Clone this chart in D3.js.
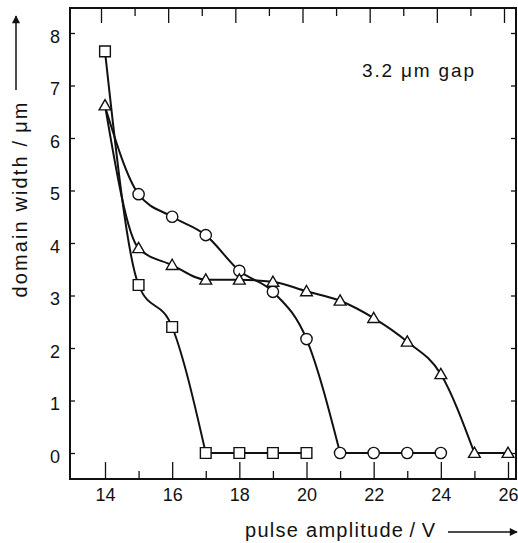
<!DOCTYPE html>
<html><head><meta charset="utf-8">
<script src="https://cdn.jsdelivr.net/npm/d3@7"></script>
<style>body{margin:0;background:#fff}svg{display:block}text{font-family:"Liberation Sans",Arial,Helvetica,sans-serif;fill:#111}</style>
</head><body><svg id="c" width="518" height="543"></svg>
<script>
// ---- data ----
const squareX = [14, 15, 16, 17, 18, 19, 20];
const squareY = [7.65, 3.2, 2.4, 0, 0, 0, 0];
const circleX = [14, 15, 16, 17, 18, 19, 20, 21, 22, 23, 24];
const circleY = [6.6, 4.93, 4.5, 4.15, 3.47, 3.07, 2.17, 0, 0, 0, 0];
const circleShown = [false, true, true, true, true, true, true, true, true, true, true];
const triangleX = [14, 15, 16, 17, 18, 19, 20, 21, 22, 23, 24, 25, 26];
const triangleY = [6.62, 3.9, 3.58, 3.3, 3.3, 3.26, 3.08, 2.9, 2.57, 2.12, 1.5, 0, 0];
const xMajorTicks = [14, 16, 18, 20, 22, 24, 26];
const xMinorTicks = [15, 17, 19, 21, 23, 25];
const yTicks = [0, 1, 2, 3, 4, 5, 6, 7, 8];
const xLabel = "pulse amplitude\u2009/\u2009V";
const yLabel = "domain width /\u2009μm";
const annotation = "3.2 μm gap";

// ---- layout ----
const svg = d3.select("#c");
const L = 70, R = 516, T = 8, B = 479;
const x = d3.scaleLinear().domain([14, 26]).range([105, 508]);
const xTop = d3.scaleLinear().domain([14, 26]).range([101, 504]);
const y = d3.scaleLinear().domain([0, 8]).range([453, 33]);
const ink = "#111";

function styleAxis(g){ g.select(".domain").remove(); g.selectAll("line").attr("stroke", ink).attr("stroke-width", 1.3); g.selectAll("text").attr("font-size", 18).style("font-family",'"Liberation Sans",Arial,sans-serif').attr("fill", ink); }

// bottom axis
svg.append("g").attr("transform", `translate(0,${B})`)
  .call(d3.axisBottom(x).tickValues(xMajorTicks).tickSize(-17).tickPadding(9).tickFormat(d3.format("d")))
  .call(styleAxis);
svg.append("g").attr("transform", `translate(0,${B})`)
  .call(d3.axisBottom(x).tickValues(xMinorTicks).tickSize(-8).tickFormat(""))
  .call(styleAxis);
// top axis
svg.append("g").attr("transform", `translate(0,${T})`)
  .call(d3.axisTop(xTop).tickValues(xMajorTicks).tickSize(-15).tickFormat(""))
  .call(styleAxis);
svg.append("g").attr("transform", `translate(0,${T})`)
  .call(d3.axisTop(xTop).tickValues(xMinorTicks).tickSize(-8).tickFormat(""))
  .call(styleAxis);
// left axis
const gl = svg.append("g").attr("transform", `translate(${L},0)`)
  .call(d3.axisLeft(y).tickValues(yTicks).tickSize(-5).tickPadding(10).tickFormat(d3.format("d")))
  .call(styleAxis);
gl.selectAll("text").attr("dy", "0.5em");
// right axis
svg.append("g").attr("transform", `translate(${R},0)`)
  .call(d3.axisRight(y).tickValues(yTicks).tickSize(-5).tickFormat(""))
  .call(styleAxis);

// frame
svg.append("rect").attr("x", L).attr("y", T).attr("width", R - L).attr("height", B - T)
  .attr("fill", "none").attr("stroke", ink).attr("stroke-width", 2);

// curves: smooth part up to the first zero, straight along the zero line
const smooth = d3.line().x(d => x(d[0])).y(d => y(d[1])).curve(d3.curveMonotoneX);
const straight = d3.line().x(d => x(d[0])).y(d => y(d[1]));
const series = [
  {xs: squareX, ys: squareY, shape: "square"},
  {xs: circleX, ys: circleY, shape: "circle", shown: circleShown},
  {xs: triangleX, ys: triangleY, shape: "triangle"}
];
series.forEach(s => {
  const pts = s.xs.map((v, i) => [v, s.ys[i]]);
  const z = s.ys.indexOf(0);
  svg.append("path").attr("d", smooth(pts.slice(0, z + 1))).attr("fill", "none").attr("stroke", ink).attr("stroke-width", 2);
  svg.append("path").attr("d", straight(pts.slice(z))).attr("fill", "none").attr("stroke", ink).attr("stroke-width", 2);
});
const sym = {square: d3.symbolSquare, circle: d3.symbolCircle, triangle: d3.symbolTriangle};
const sizes = {square: 115, circle: 100, triangle: 60};
series.forEach(s => {
  const pts = s.xs.map((v, i) => ({x: v, y: s.ys[i], show: s.shown ? s.shown[i] : true})).filter(p => p.show);
  svg.append("g").selectAll("path").data(pts).join("path")
    .attr("d", d3.symbol().type(sym[s.shape]).size(sizes[s.shape]))
    .attr("transform", p => `translate(${x(p.x)},${y(p.y) + (s.shape === "triangle" ? 1 : 0)})`)
    .attr("fill", "#fff").attr("stroke", ink).attr("stroke-width", 1.4);
});

// annotation
svg.append("text").attr("x", 418).attr("y", 77).attr("text-anchor", "middle")
  .attr("font-size", 19).attr("textLength", 112).text(annotation);

// arrow marker
svg.append("defs").append("marker").attr("id", "ah").attr("viewBox", "0 0 10 10")
  .attr("refX", 9).attr("refY", 5).attr("markerWidth", 14).attr("markerHeight", 8)
  .attr("markerUnits", "userSpaceOnUse").attr("orient", "auto")
  .append("path").attr("d", "M0,0 L10,5 L0,10 Z").attr("fill", ink);

// x label + arrow
svg.append("text").attr("x", 340).attr("y", 537).attr("text-anchor", "middle")
  .attr("font-size", 20).attr("textLength", 190).text(xLabel);
svg.append("line").attr("x1", 448).attr("y1", 532).attr("x2", 517).attr("y2", 532)
  .attr("stroke", ink).attr("stroke-width", 1.5).attr("marker-end", "url(#ah)");

// y label + arrow
svg.append("text").attr("transform", "translate(27,200) rotate(-90)").attr("text-anchor", "middle")
  .attr("font-size", 20).attr("textLength", 195).text(yLabel);
svg.append("line").attr("x1", 16).attr("y1", 90).attr("x2", 16).attr("y2", 16)
  .attr("stroke", ink).attr("stroke-width", 1.5).attr("marker-end", "url(#ah)");
</script></body></html>
